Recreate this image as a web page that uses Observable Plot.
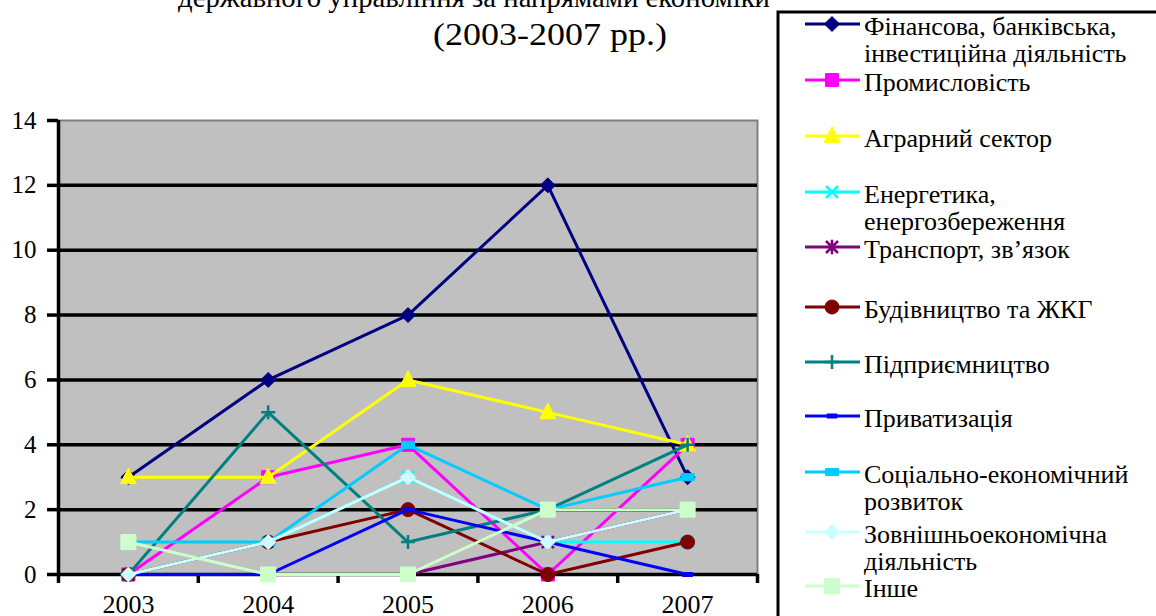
<!DOCTYPE html>
<html>
<head>
<meta charset="utf-8">
<script src="https://cdn.jsdelivr.net/npm/d3@7"></script>
<script src="https://cdn.jsdelivr.net/npm/@observablehq/plot@0.6"></script>
<style>
  html, body { margin: 0; padding: 0; background: #fff; }
  #wrap { position: relative; width: 1156px; height: 616px; overflow: hidden; background: #fff; }
  #chart { position: absolute; left: 0; top: 0; }
  #overlay { position: absolute; left: 0; top: 0; pointer-events: none; }
</style>
</head>
<body>
<div id="wrap">
  <div id="chart"></div>
  <svg id="overlay" width="1156" height="616"></svg>
</div>
<script>
// ---- data ----
const years = [2003, 2004, 2005, 2006, 2007];
const titleLines = ["державного управління за напрямами економіки", "(2003-2007 рр.)"];
const seriesNames = [
  "Фінансова, банківська, інвестиційна діяльність",
  "Промисловість",
  "Аграрний сектор",
  "Енергетика, енергозбереження",
  "Транспорт, зв’язок",
  "Будівництво та ЖКГ",
  "Підприємництво",
  "Приватизація",
  "Соціально-економічний розвиток",
  "Зовнішньоекономічна діяльність",
  "Інше"
];
const legendLines = [
  ["Фінансова, банківська,", "інвестиційна діяльність"],
  ["Промисловість"],
  ["Аграрний сектор"],
  ["Енергетика,", "енергозбереження"],
  ["Транспорт, зв’язок"],
  ["Будівництво та ЖКГ"],
  ["Підприємництво"],
  ["Приватизація"],
  ["Соціально-економічний", "розвиток"],
  ["Зовнішньоекономічна", "діяльність"],
  ["Інше"]
];
const finance         = [3, 6, 8, 12, 3];
const industry        = [0, 3, 4, 0, 4];
const agrarian        = [3, 3, 6, 5, 4];
const energy          = [0, 1, 3, 1, 1];
const transport       = [0, 0, 0, 1, 2];
const construction    = [0, 1, 2, 0, 1];
const enterprise      = [0, 5, 1, 2, 4];
const privatization   = [0, 0, 2, 1, 0];
const socioeconomic   = [1, 1, 4, 2, 3];
const foreignEconomic = [0, 1, 3, 1, 2];
const other           = [1, 0, 0, 2, 2];
const yTicks = [0, 2, 4, 6, 8, 10, 12, 14];

const seriesValues = [finance, industry, agrarian, energy, transport, construction,
  enterprise, privatization, socioeconomic, foreignEconomic, other];

// ---- marker symbols ----
const R = s => Math.sqrt(s / Math.PI);
const symDiamond = {draw(c, s) { const r = R(s); c.moveTo(0, -r); c.lineTo(r, 0); c.lineTo(0, r); c.lineTo(-r, 0); c.closePath(); }};
const symSquare  = {draw(c, s) { const r = R(s); c.rect(-r, -r, 2 * r, 2 * r); }};
const symTri     = {draw(c, s) { const r = R(s); c.moveTo(0, -r * 1.15); c.lineTo(r, r * 0.8); c.lineTo(-r, r * 0.8); c.closePath(); }};
const symX       = {draw(c, s) { const r = R(s); c.moveTo(-r, -r); c.lineTo(r, r); c.moveTo(r, -r); c.lineTo(-r, r); }};
const symStar    = {draw(c, s) { const r = R(s); c.moveTo(-r, -r); c.lineTo(r, r); c.moveTo(r, -r); c.lineTo(-r, r); c.moveTo(0, -r * 1.2); c.lineTo(0, r * 1.2); }};
const symCircle  = {draw(c, s) { const r = R(s); c.moveTo(r, 0); c.arc(0, 0, r, 0, 2 * Math.PI); }};
const symPlus    = {draw(c, s) { const r = R(s); c.moveTo(0, -r); c.lineTo(0, r); c.moveTo(-r, 0); c.lineTo(r, 0); }};
const symDash    = {draw(c, s) { const r = R(s); c.rect(-r, -r * 0.4, 2 * r, r * 0.8); }};
const symBar     = {draw(c, s) { const r = R(s); c.rect(-r, -r * 0.55, 2 * r, r * 1.1); }};

const styles = [
  {color: "#000080", sym: symDiamond, r: 7.5, filled: true},
  {color: "#FF00FF", sym: symSquare,  r: 6.5, filled: true},
  {color: "#FFFF00", sym: symTri,     r: 8,   filled: true},
  {color: "#00FFFF", sym: symX,       r: 6,   filled: false},
  {color: "#800080", sym: symStar,    r: 6,   filled: false},
  {color: "#800000", sym: symCircle,  r: 7,   filled: true},
  {color: "#008080", sym: symPlus,    r: 7,   filled: false},
  {color: "#0000FF", sym: symDash,    r: 5,   filled: true},
  {color: "#00CCFF", sym: symBar,     r: 6.5, filled: true},
  {color: "#CCFFFF", sym: symDiamond, r: 7.5, filled: true},
  {color: "#CCFFCC", sym: symSquare,  r: 7.5, filled: true}
];

const table = [];
seriesNames.forEach((name, i) => years.forEach((year, j) => table.push({series: name, idx: i, year, value: seriesValues[i][j]})));

const bounds = [2002.5, 2003.5, 2004.5, 2005.5, 2006.5, 2007.5];

const seriesMarks = [];
seriesNames.forEach((name, i) => {
  const st = styles[i];
  const d = table.filter(t => t.idx === i);
  seriesMarks.push(Plot.line(d, {x: "year", y: "value", stroke: st.color, strokeWidth: 3}));
  seriesMarks.push(Plot.dot(d, {x: "year", y: "value", symbol: st.sym, r: st.r,
    fill: st.filled ? st.color : "none", stroke: st.color, strokeWidth: st.filled ? 1 : 2.5}));
});

const serif = '"Liberation Serif", "Times New Roman", Tinos, serif';

const chart = Plot.plot({
  width: 770, height: 616,
  marginLeft: 58, marginRight: 13, marginTop: 120, marginBottom: 42,
  style: {fontFamily: serif, background: "transparent", color: "black", overflow: "visible"},
  x: {domain: [2002.5, 2007.5], label: null},
  y: {domain: [0, 14], label: null},
  marks: [
    Plot.frame({fill: "#C0C0C0", stroke: "#808080", strokeWidth: 2}),
    Plot.ruleY(yTicks.filter(v => v > 0 && v < 14), {stroke: "black", strokeWidth: 3.5}),
    Plot.ruleY([0], {stroke: "black", strokeWidth: 3.5}),
    Plot.ruleX([2002.5], {stroke: "black", strokeWidth: 3.5}),
    Plot.axisY({ticks: yTicks, tickSize: 11, tickPadding: 11, fontSize: 25, strokeWidth: 3.5, tickFormat: d => String(d), label: null}),
    Plot.axisX({ticks: bounds, tickSize: 9, strokeWidth: 3.5, tickFormat: () => "", label: null}),
    Plot.axisX({ticks: years, tickSize: 0, tickPadding: 20, fontSize: 26, tickFormat: d => String(d), label: null}),
    ...seriesMarks
  ]
});
document.getElementById("chart").appendChild(chart);
d3.select(chart).selectAll("text").style("font-family", serif);

// ---- title and legend ----
const ov = d3.select("#overlay");
ov.append("text").attr("x", 474).attr("y", 7).attr("text-anchor", "middle")
  .attr("textLength", 592).attr("lengthAdjust", "spacingAndGlyphs")
  .style("font-family", serif).style("font-size", "30px").text(titleLines[0]);
ov.append("text").attr("x", 550).attr("y", 45).attr("text-anchor", "middle")
  .attr("textLength", 234).attr("lengthAdjust", "spacingAndGlyphs")
  .style("font-family", serif).style("font-size", "31px").text(titleLines[1]);

ov.append("rect").attr("x", 778).attr("y", 12).attr("width", 420).attr("height", 700)
  .attr("fill", "white").attr("stroke", "black").attr("stroke-width", 3);

const legendY = [24, 80, 136, 192, 247, 307, 362, 416, 472, 532, 586];
seriesNames.forEach((name, i) => {
  const st = styles[i];
  const y = legendY[i];
  const g = ov.append("g");
  g.append("line").attr("x1", 805).attr("x2", 860).attr("y1", y).attr("y2", y)
    .attr("stroke", st.color).attr("stroke-width", 3);
  g.append("path").attr("transform", `translate(832,${y})`)
    .attr("d", d3.symbol(st.sym, Math.PI * st.r * st.r)())
    .attr("fill", st.filled ? st.color : "none").attr("stroke", st.color)
    .attr("stroke-width", st.filled ? 1 : 2.5);
  legendLines[i].forEach((line, k) => {
    g.append("text").attr("x", 864).attr("y", y + 11 + k * 27)
      .style("font-family", serif).style("font-size", "26px").text(line);
  });
});
</script>
</body>
</html>
